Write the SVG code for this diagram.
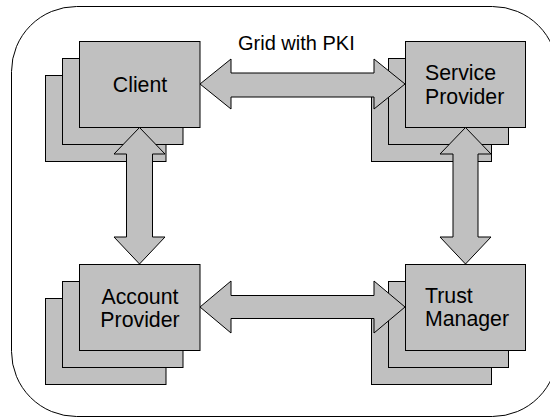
<svg xmlns="http://www.w3.org/2000/svg" width="550" height="418" viewBox="0 0 550 418">
<style>
.box{fill:#c0c0c0;stroke:#000;stroke-width:1}
.arr{fill:#c0c0c0;stroke:#000;stroke-width:1;stroke-linejoin:miter}
.lbl{font-family:"Liberation Sans",Arial,sans-serif;font-size:21.3px;fill:#000}
.title{font-family:"Liberation Sans",Arial,sans-serif;font-size:20px;fill:#000}
</style>
<rect x="11.5" y="6.5" width="546" height="410" rx="65" ry="65" fill="#fff" stroke="#000" stroke-width="1"/>
<text class="title" x="238" y="50">Grid with PKI</text>
<g id="client">
<rect class="box" x="45.5" y="75.5" width="120.5" height="86"/>
<rect class="box" x="62.5" y="58.5" width="120.5" height="86"/>
<rect class="box" x="79.5" y="41.5" width="120.5" height="86"/>
<text class="lbl" x="140" y="91.5" text-anchor="middle">Client</text>
</g>
<g id="service-provider">
<rect class="box" x="371.5" y="75.5" width="120" height="86"/>
<rect class="box" x="388.5" y="58.5" width="120" height="86"/>
<rect class="box" x="405.5" y="41.5" width="120" height="86"/>
<text class="lbl" x="425" y="80">Service</text>
<text class="lbl" x="425" y="103.5">Provider</text>
</g>
<g id="account-provider">
<rect class="box" x="45.5" y="298.5" width="120.5" height="86"/>
<rect class="box" x="62.5" y="281.5" width="120.5" height="86"/>
<rect class="box" x="79.5" y="264.5" width="120.5" height="86"/>
<text class="lbl" x="140" y="303.5" text-anchor="middle">Account</text>
<text class="lbl" x="140" y="326.5" text-anchor="middle">Provider</text>
</g>
<g id="trust-manager">
<rect class="box" x="371.5" y="298.5" width="120" height="86"/>
<rect class="box" x="388.5" y="281.5" width="120" height="86"/>
<rect class="box" x="405.5" y="264.5" width="120" height="86"/>
<text class="lbl" x="425" y="303">Trust</text>
<text class="lbl" x="425" y="326">Manager</text>
</g>
<g id="connectors">
<polygon class="arr" points="200,84 231,59 231,73 374,73 374,59 405,84 374,109 374,97 231,97 231,109"/>
<polygon class="arr" points="200,307 231,281 231,295.5 374,295.5 374,281 405,307 374,333 374,318.5 231,318.5 231,333"/>
<polygon class="arr" points="139.5,127.5 165,154 152.5,154 152.5,237 165,237 139.5,264 114,237 126.5,237 126.5,154 114,154"/>
<polygon class="arr" points="465.5,127.5 491,154 478,154 478,237 491,237 465.5,264 440,237 453,237 453,154 440,154"/>
</g>
</svg>
